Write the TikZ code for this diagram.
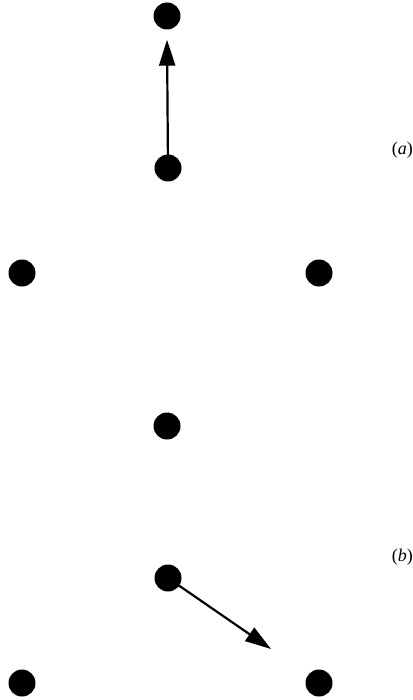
\documentclass[tikz,border=0pt]{standalone}
\usepackage{fontspec}
\setmainfont{Liberation Serif}
\usetikzlibrary{arrows.meta}

\begin{document}
\begin{tikzpicture}[
    x=1pt, y=-1pt,
    dot/.style={circle, fill=black, inner sep=0pt, minimum size=27pt},
    arr/.style={-{Triangle[length=26pt, width=16pt]}, line width=2.2pt},
    lbl/.style={font=\fontsize{18}{20}\selectfont, anchor=east, inner sep=0pt}
]
    \useasboundingbox (0,0) rectangle (412,700);

    % (a)
    \node[dot] (a1) at (167,16) {};
    \node[dot] (a2) at (168,168) {};
    \node[dot] (a3) at (22,273) {};
    \node[dot] (a4) at (319,273) {};
    \node[lbl] (la) at (413,150) {(\textit{a})};

    % (b)
    \node[dot] (b1) at (167,426) {};
    \node[dot] (b2) at (168,578) {};
    \node[dot] (b3) at (22,683) {};
    \node[dot] (b4) at (319,683) {};
    \node[lbl] (lb) at (413,557) {(\textit{b})};
    \coordinate (tip) at (271,649);

    % Arrows
    \draw[arr] (a2.center) -- ([yshift=-10pt]a1.south);
    \draw[arr] (b2.center) -- (tip);
\end{tikzpicture}
\end{document}
